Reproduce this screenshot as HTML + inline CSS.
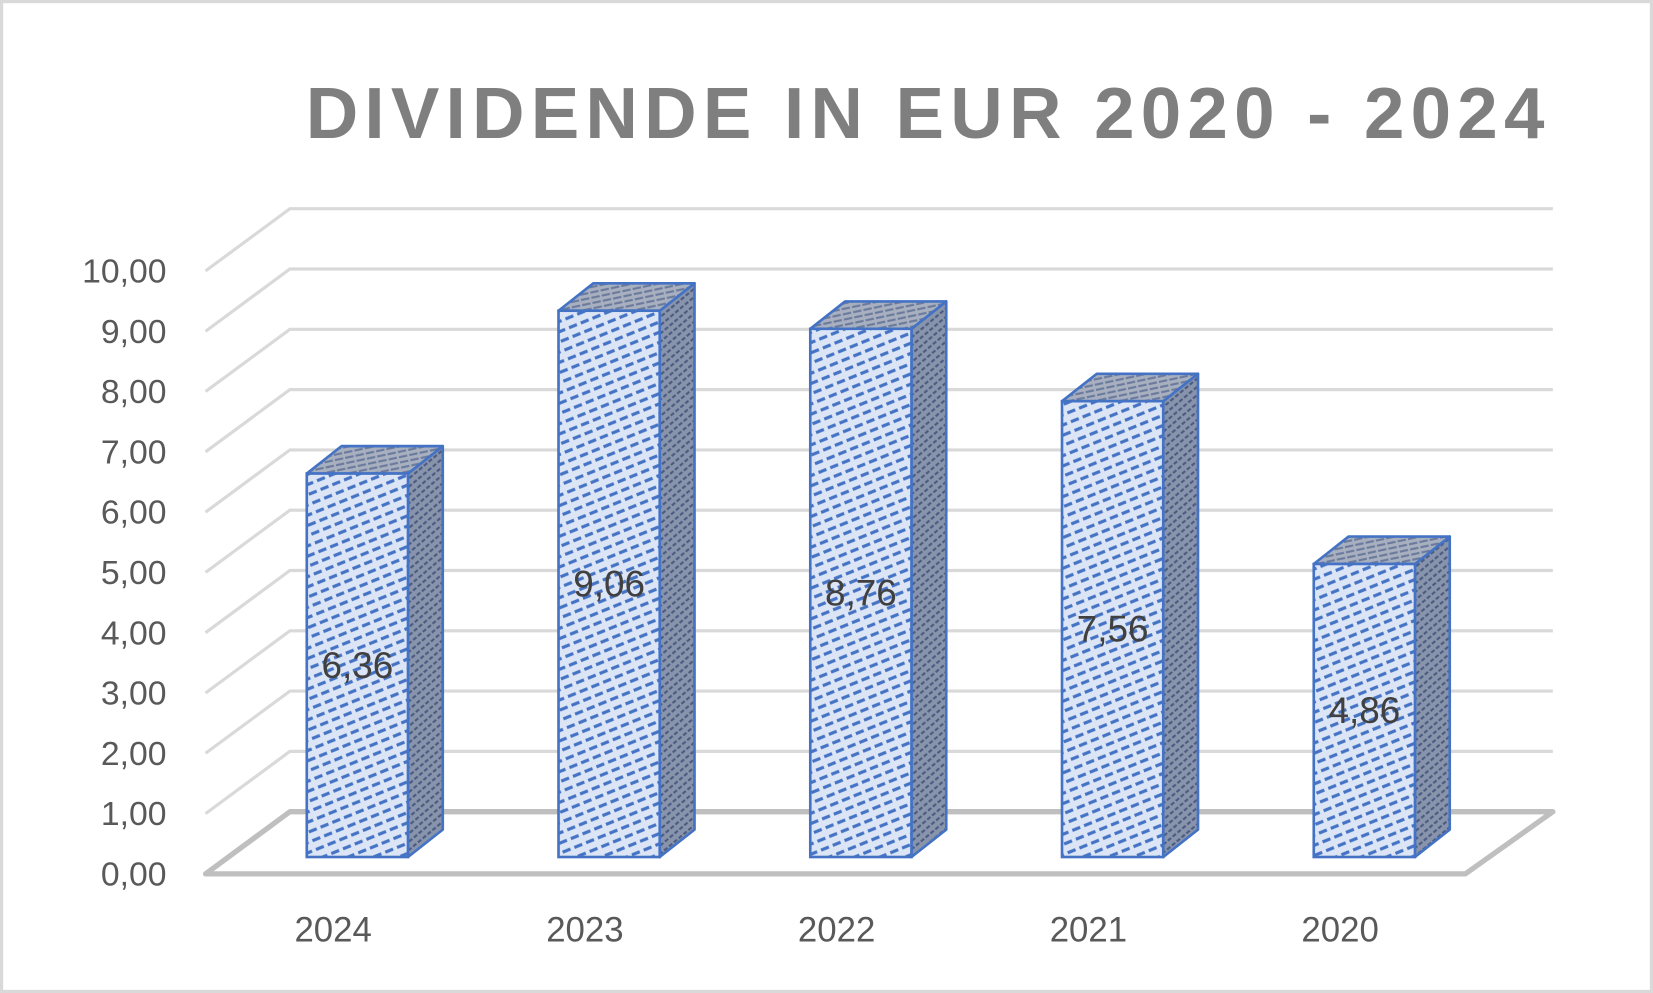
<!DOCTYPE html>
<html><head><meta charset="utf-8"><style>
html,body{margin:0;padding:0;background:#fff;}
svg{display:block;}
</style></head><body>
<svg id="chart" width="1653" height="993" viewBox="0 0 1568 942" preserveAspectRatio="none" xmlns="http://www.w3.org/2000/svg">
<defs>
<pattern id="pf" width="12" height="9" patternUnits="userSpaceOnUse" patternTransform="rotate(-22)">
<rect width="12" height="9" fill="#dce5f5"/><rect y="3" width="8" height="3" fill="#4472c4"/></pattern>
<pattern id="ps" width="6" height="6" patternUnits="userSpaceOnUse" patternTransform="rotate(-40)">
<rect width="6" height="6" fill="#8894ab"/><rect y="2" width="4" height="2" fill="#4a5a80"/></pattern>
<pattern id="pt" width="10" height="5" patternUnits="userSpaceOnUse" patternTransform="rotate(-12)">
<rect width="10" height="5" fill="#a8b0c0"/><rect y="2" width="8" height="2" fill="#6a7a9c"/></pattern>
</defs>
<rect x="1.5" y="1.5" width="1565" height="939" fill="#fff" stroke="#d9d9d9" stroke-width="3"/>
<text x="290" y="131" textLength="1175" lengthAdjust="spacing" font-family="Liberation Sans, sans-serif" font-weight="bold" font-size="69" fill="#7f7f7f">DIVIDENDE IN EUR 2020 - 2024</text>
<g id="grid"></g>
<g id="bars"></g>
<g id="labels"></g>
</svg>
<script>
const categories = ["2024","2023","2022","2021","2020"];
const values = [6.36, 9.06, 8.76, 7.56, 4.86];
const valueLabels = ["6,36","9,06","8,76","7,56","4,86"];
const yTicks = [0,1,2,3,4,5,6,7,8,9,10];
const yTickLabels = ["0,00","1,00","2,00","3,00","4,00","5,00","6,00","7,00","8,00","9,00","10,00"];

const NS = "http://www.w3.org/2000/svg";
const unit = 57.2;
const yFront = v => 829 - v * unit;
const yBack = v => 770 - v * unit;
const yBar = v => 813 - v * unit;
const xBar = i => 291 + i * 238.8;
const bw = 96, dx = 33, dy = 26;
function mk(tag, attrs, parent){const e=document.createElementNS(NS,tag);for(const k in attrs)e.setAttribute(k,attrs[k]);parent.appendChild(e);return e;}
const grid = document.getElementById('grid');
const bars = document.getElementById('bars');
const labels = document.getElementById('labels');

yTicks.forEach((t,i)=>{
  if(t===0) return;
  const l = mk('polyline',{points:`195,${yFront(t)} 275,${yBack(t)} 1473,${yBack(t)}`,fill:'none',stroke:'#d9d9d9','stroke-width':3},grid);
  
  
});
const floor = mk('polygon',{points:`195,${yFront(0)} 275,${yBack(0)} 1473,${yBack(0)} 1390,${yFront(0)}`,fill:'none',stroke:'#bfbfbf','stroke-width':5,'stroke-linejoin':'round'},grid);



yTicks.forEach((t,i)=>{
  const tx = mk('text',{x:158,y:yFront(t)+11,'text-anchor':'end','font-family':'Liberation Sans, sans-serif','font-size':32,fill:'#595959'},labels);
  tx.textContent = yTickLabels[i];
  
  
});

categories.forEach((c,i)=>{
  const x = xBar(i), top = yBar(values[i]), bot = yBar(0);
  const g = mk('g',{},bars);
  
  
  mk('polygon',{points:`${x+bw},${top} ${x+bw+dx},${top-dy} ${x+bw+dx},${bot-dy} ${x+bw},${bot}`,fill:'url(#ps)',stroke:'#4472c4','stroke-width':2.5,'stroke-linejoin':'round'},g);
  mk('polygon',{points:`${x},${top} ${x+dx},${top-dy} ${x+bw+dx},${top-dy} ${x+bw},${top}`,fill:'url(#pt)',stroke:'#4472c4','stroke-width':2.5,'stroke-linejoin':'round'},g);
  mk('rect',{x:x,y:top,width:bw,height:bot-top,fill:'url(#pf)',stroke:'#4472c4','stroke-width':2.5},g);
  const vl = mk('text',{x:x+bw/2,y:(top+bot)/2+12,'text-anchor':'middle','font-family':'Liberation Sans, sans-serif','font-size':35,fill:'#404040'},labels);
  vl.textContent = valueLabels[i];
  
  
  const cl = mk('text',{x:x+bw/2-23,y:893,'text-anchor':'middle','font-family':'Liberation Sans, sans-serif','font-size':33,fill:'#595959'},labels);
  cl.textContent = c;
  
  
});
</script>
</body></html>
